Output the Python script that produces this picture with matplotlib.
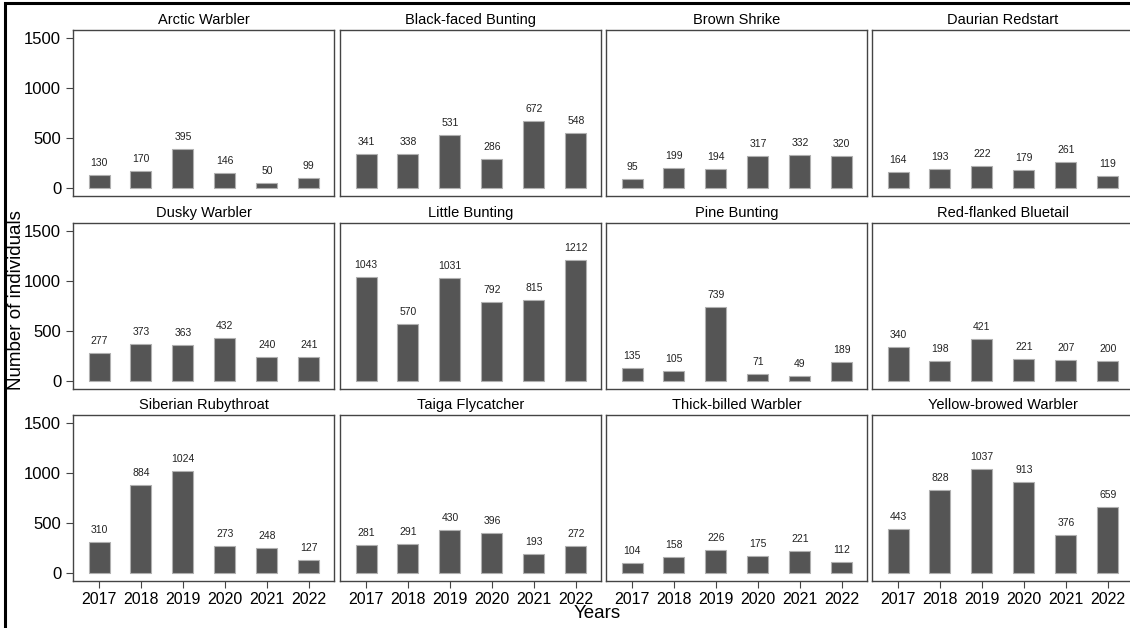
import matplotlib
matplotlib.use("Agg")
import matplotlib.pyplot as plt
from matplotlib.patches import Rectangle

plt.rcParams['font.family'] = ['Liberation Sans', 'DejaVu Sans']

years = [2017, 2018, 2019, 2020, 2021, 2022]
species = [
    "Arctic Warbler", "Black-faced Bunting", "Brown Shrike", "Daurian Redstart",
    "Dusky Warbler", "Little Bunting", "Pine Bunting", "Red-flanked Bluetail",
    "Siberian Rubythroat", "Taiga Flycatcher", "Thick-billed Warbler", "Yellow-browed Warbler",
]
arctic_warbler = [130, 170, 395, 146, 50, 99]
black_faced_bunting = [341, 338, 531, 286, 672, 548]
brown_shrike = [95, 199, 194, 317, 332, 320]
daurian_redstart = [164, 193, 222, 179, 261, 119]
dusky_warbler = [277, 373, 363, 432, 240, 241]
little_bunting = [1043, 570, 1031, 792, 815, 1212]
pine_bunting = [135, 105, 739, 71, 49, 189]
red_flanked_bluetail = [340, 198, 421, 221, 207, 200]
siberian_rubythroat = [310, 884, 1024, 273, 248, 127]
taiga_flycatcher = [281, 291, 430, 396, 193, 272]
thick_billed_warbler = [104, 158, 226, 175, 221, 112]
yellow_browed_warbler = [443, 828, 1037, 913, 376, 659]

counts = [
    arctic_warbler, black_faced_bunting, brown_shrike, daurian_redstart,
    dusky_warbler, little_bunting, pine_bunting, red_flanked_bluetail,
    siberian_rubythroat, taiga_flycatcher, thick_billed_warbler, yellow_browed_warbler,
]
y_ticks = [0, 500, 1000, 1500]

W, H = 1130, 628
fig = plt.figure(figsize=(W / 100, H / 100), dpi=100)

col_left = [73, 340, 606, 872]
row_top = [30, 223, 415]
pw, ph = 261, 166

for i, (name, vals) in enumerate(zip(species, counts)):
    r, c = divmod(i, 4)
    ax = fig.add_axes([col_left[c] / W, (H - row_top[r] - ph) / H, pw / W, ph / H])
    ax.bar(years, vals, width=0.5, color="#555555", edgecolor="#b0b0b0", linewidth=0.8, zorder=2)
    for x, v in zip(years, vals):
        ax.annotate(str(v), (x, v), xytext=(0, 5), textcoords="offset points",
                    ha="center", va="bottom", fontsize=7.5, color="#222222")
    ax.set_xlim(2016.38, 2022.6)
    ax.set_ylim(-80, 1580)
    ax.set_title(name, fontsize=10.5, pad=4, color="black")
    for sp in ax.spines.values():
        sp.set_color("#444444")
        sp.set_linewidth(1.0)
    ax.set_yticks(y_ticks)
    ax.set_xticks(years)
    ax.tick_params(axis="both", direction="out", length=5, width=0.8, color="#444444",
                   labelsize=12, labelcolor="black")
    if c != 0:
        ax.tick_params(axis="y", left=False, labelleft=False)
    if r != 2:
        ax.tick_params(axis="x", bottom=False, labelbottom=False)
    else:
        ax.tick_params(axis="x", labelsize=11.5, pad=3)

fig.text(17 / W, 1 - 300 / H, "Number of individuals", rotation=90, ha="center", va="center", fontsize=13.5)
fig.text(597 / W, 1 - 614 / H, "Years", ha="center", va="center", fontsize=13.5)

# outer frame along the left and top edges
fig.add_artist(Rectangle((5 / W, -0.05), 1.2, 1 - 3 / H + 0.05, transform=fig.transFigure,
                         fill=False, edgecolor="black", linewidth=2.2, clip_on=False))

fig.savefig("out.png", dpi=100)
